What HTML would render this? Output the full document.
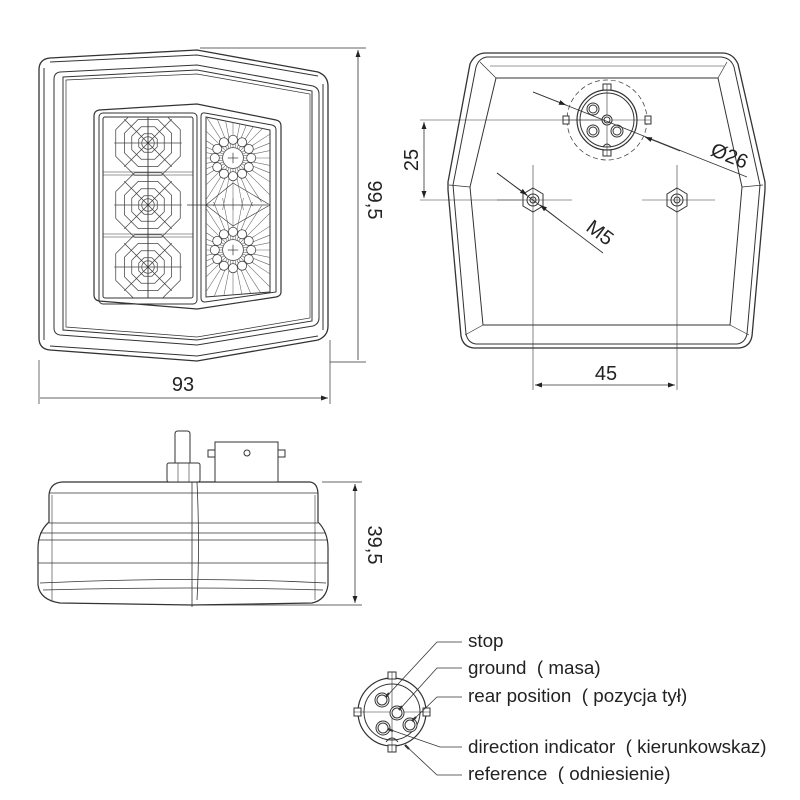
<!DOCTYPE html>
<html><head><meta charset="utf-8"><style>
html,body{margin:0;padding:0;background:#fff}
svg{display:block}
text{font-family:"Liberation Sans",sans-serif;fill:#222;white-space:pre}
</style></head><body>
<svg width="800" height="800" viewBox="0 0 800 800" xmlns="http://www.w3.org/2000/svg" xml:space="preserve">
<defs>
<marker id="ar" viewBox="0 0 10 10" refX="10" refY="5" markerWidth="10" markerHeight="7" orient="auto-start-reverse" markerUnits="userSpaceOnUse"><path d="M0,1.5 L10,5 L0,8.5 z" fill="#222"/></marker>
<g id="web" fill="none" stroke="#444" stroke-width="0.6">
<polygon points="3.1,-7.4 7.4,-3.1 7.4,3.1 3.1,7.4 -3.1,7.4 -7.4,3.1 -7.4,-3.1 -3.1,-7.4"/>
<polygon points="5.4,-13 13,-5.4 13,5.4 5.4,13 -5.4,13 -13,5.4 -13,-5.4 -5.4,-13"/>
<polygon points="7.8,-18.9 18.9,-7.8 18.9,7.8 7.8,18.9 -7.8,18.9 -18.9,7.8 -18.9,-7.8 -7.8,-18.9"/>
<polygon points="10.7,-25.8 25.8,-10.7 25.8,10.7 10.7,25.8 -10.7,25.8 -25.8,10.7 -25.8,-10.7 -10.7,-25.8"/>
<path d="M0,-27V27M-27,0H27M-19,-19L19,19M19,-19L-19,19"/>
<circle r="5"/>
</g>
<g id="sun" fill="none" stroke="#444" stroke-width="0.6">
<path d="M0,-40V40M-40,0H40M-28,-28L28,28M28,-28L-28,28M-15,-37L15,37M15,-37L-15,37M-37,-15L37,15M37,-15L-37,15M-8,-40L8,40M8,-40L-8,40M-40,-8L40,8M40,-8L-40,8M-22,-34L22,34M22,-34L-22,34M-34,-22L34,22M34,-22L-34,22" stroke="#666" stroke-width="0.45"/>
<circle r="8" fill="#fff"/>
<g fill="#fff"><circle cx="14" cy="0" r="3.5"/><circle cx="12.1" cy="7" r="3.5"/><circle cx="7" cy="12.1" r="3.5"/><circle cx="0" cy="14" r="3.5"/><circle cx="-7" cy="12.1" r="3.5"/><circle cx="-12.1" cy="7" r="3.5"/><circle cx="-14" cy="0" r="3.5"/><circle cx="-12.1" cy="-7" r="3.5"/><circle cx="-7" cy="-12.1" r="3.5"/><circle cx="0" cy="-14" r="3.5"/><circle cx="7" cy="-12.1" r="3.5"/><circle cx="12.1" cy="-7" r="3.5"/></g>
<path d="M-4,0H4M0,-4V4"/>
</g>
<clipPath id="cl"><rect x="103" y="117" width="90" height="181"/></clipPath>
<clipPath id="cr"><polygon points="206,117 270,130 270,292 206,297"/></clipPath>
</defs>

<g fill="none" stroke="#333" stroke-width="1">
<path d="M50,58 L197,50 L318,72 Q328,76 328,86 L328,326 Q328,336 318,340 L197,361 L50,350 Q39,349 39,338 L39,70 Q39,59 50,58 Z" stroke-width="1.3"/>
<path d="M50,62 L197,55 L318,76"/>
<path d="M50,346 L197,356 L318,336"/>
<path d="M44,68 L44,340"/>
<path d="M323,84 L323,330"/>
<path d="M60,72 L197,65 L313,86 Q319,88 319,94 L319,318 Q319,324 313,326 L197,345 L60,335 Q54,334 54,328 L54,79 Q54,73 60,72 Z"/>
<path d="M63,77 L197,70 L312,91 L312,321 L197,340 L63,330 Z"/>
<path d="M66,80 L197,74 L310,94 L310,318 L197,337 L66,327 Z" stroke-width="0.7"/>
<path d="M99,110 L197,104 L276,120 Q281,121 281,126 L281,292 Q281,296 276,297 L197,309 L99,301 Q94,300 94,295 L94,116 Q94,111 99,110 Z" stroke-width="1.2"/>
<rect x="99" y="113" width="98" height="191" rx="4"/>
<rect x="103" y="117" width="90" height="181" rx="2"/>
<path d="M205,113 L272,125 Q276,126 276,130 L276,292 L205,302 Q201,302 201,298 L201,117 Q201,112 205,113 Z"/>
<path d="M206,117 L270,130 L270,292 L206,297 Z"/>
<g clip-path="url(#cl)">
<use href="#web" transform="translate(148,143) scale(1.25)"/><use href="#web" transform="translate(148,205) scale(1.25)"/><use href="#web" transform="translate(148,267) scale(1.25)"/>
<path d="M103,172H193M103,175H193M103,234H193M103,237H193M148,117V298" stroke-width="0.6"/>
</g>
<g clip-path="url(#cr)">
<use href="#sun" transform="translate(233,158) scale(1.3)"/><use href="#sun" transform="translate(233,250) scale(1.3)"/>
<path d="M206,205 L233,183 L270,205 L233,226 Z" stroke-width="0.6"/>
</g>
<path d="M187,205H268" stroke-width="0.8"/>
<path d="M200,48H366M330,362H366M39,360V404M330,340V404" stroke-width="0.7"/>
<path d="M358,50V360M40,398H328" marker-start="url(#ar)" marker-end="url(#ar)" stroke-width="0.8"/>

<path d="M486,53 L722,53 Q733,53 738,64 L765,182 L765,190 L752,336 Q750,347 739,348 L474,348 Q463,347 461,336 L448,190 L448,182 L470,64 Q475,53 486,53 Z" stroke-width="1.3"/>
<path d="M487,57 L721,57 Q731,58 734,67 L760,185 L747,334 Q745,343 737,344 L476,344 Q468,343 466,334 L453,185 L476,67 Q479,58 487,57 Z"/>
<path d="M480,62 L496,78 M727,62 L718,78 M449,185 L470,187 M763,185 L742,187 M465,335 L483,325 M749,335 L730,325" stroke-width="0.7"/>
<path d="M496,78 L718,78 L742,187 L730,325 L483,325 L470,187 Z"/>
<path d="M490,66 L724,66" stroke-width="0.6"/>
<circle cx="607" cy="120" r="40" stroke-dasharray="5,3" stroke-width="0.7"/>
<circle cx="607" cy="120" r="30" stroke-width="1.2"/>
<circle cx="607" cy="120" r="27"/>
<rect x="563" y="116" width="6" height="8" fill="#fff"/><rect x="645" y="116" width="6" height="8" fill="#fff"/>
<rect x="603" y="84" width="8" height="6" fill="#fff"/><rect x="603" y="150" width="8" height="6" fill="#fff"/>
<path d="M607,84V156M563,120H651" stroke-width="0.6"/>
<path d="M603,147 Q607,141 611,147"/>
<g stroke-width="1"><circle cx="593" cy="109" r="6" fill="#fff"/><circle cx="593" cy="109" r="4"/>
<circle cx="593" cy="131" r="6" fill="#fff"/><circle cx="593" cy="131" r="4"/>
<circle cx="617" cy="131" r="6" fill="#fff"/><circle cx="617" cy="131" r="4"/>
<circle cx="607" cy="120" r="5" fill="#fff"/><circle cx="607" cy="120" r="3"/></g>
<polygon points="533,188 543,194 543,206 533,212 523,206 523,194" fill="#fff"/><circle cx="533" cy="200" r="6"/><circle cx="533" cy="200" r="3"/>
<polygon points="677,188 687,194 687,206 677,212 667,206 667,194" fill="#fff"/><circle cx="677" cy="200" r="6"/><circle cx="677" cy="200" r="3"/>
<path d="M533,165V390M497,200H572M677,165V390M642,200H715" stroke-width="0.6"/>
<path d="M420,120H603M420,200H522" stroke-width="0.6"/>
<path d="M424,122V198" marker-start="url(#ar)" marker-end="url(#ar)" stroke-width="0.8"/>
<path d="M535,385H675" marker-start="url(#ar)" marker-end="url(#ar)" stroke-width="0.8"/>
<path d="M533,92 L747,177" stroke-width="0.8"/>
<path d="M533,92 L566,105" marker-end="url(#ar)" stroke-width="0.8"/>
<path d="M680,151 L645,137" marker-end="url(#ar)" stroke-width="0.8"/>
<path d="M497,173 L603,253" stroke-width="0.8"/>
<path d="M497,173 L527,195" marker-end="url(#ar)" stroke-width="0.8"/>
<path d="M562,222 L540,205" marker-end="url(#ar)" stroke-width="0.8"/>

<path d="M62,482 L310,482 Q318,483 318,495 L318,522 Q328,532 328,548 L328,585 Q326,600 312,603 L192,605 L60,603 Q40,600 38,585 L38,548 Q38,532 49,522 L49,495 Q50,483 62,482 Z" stroke-width="1.2"/>
<path d="M49,493H318M49,523H318M40,533H326M38,540H328M38,563H328M40,583 Q192,576 326,583 M43,590 Q192,586 323,590" stroke-width="0.8"/>
<path d="M52,495V600M315,495V600" stroke-width="0.6"/>
<path d="M192,482V607M197,482 Q200,545 197,600" stroke-width="0.8"/>
<rect x="167" y="463" width="33" height="19" rx="2" fill="#fff"/>
<path d="M178,463V482M189,463V482" stroke-width="0.6"/>
<path d="M175,463V434 Q175,431 178,431 L187,431 Q190,431 190,434 V463"/>
<rect x="215" y="442" width="63" height="40" fill="#fff"/>
<rect x="208" y="450" width="7" height="7"/><rect x="278" y="450" width="7" height="7"/>
<circle cx="247" cy="453" r="3"/>
<path d="M322,482H362M198,605H362" stroke-width="0.7"/>
<path d="M355,484V603" marker-start="url(#ar)" marker-end="url(#ar)" stroke-width="0.8"/>

<circle cx="392" cy="712" r="34" stroke-width="1.2"/>
<circle cx="392" cy="712" r="28"/>
<rect x="388" y="672" width="8" height="7" fill="#fff"/><rect x="388" y="745" width="8" height="7" fill="#fff"/>
<rect x="354" y="708" width="7" height="8" fill="#fff"/><rect x="423" y="708" width="7" height="8" fill="#fff"/>
<path d="M392,672V752M354,712H430" stroke-width="0.6"/>
<path d="M386,742 Q392,734 398,742"/>
<g stroke-width="1"><circle cx="382" cy="700" r="7" fill="#fff"/><circle cx="382" cy="700" r="5"/>
<circle cx="397" cy="713" r="7" fill="#fff"/><circle cx="397" cy="713" r="5"/>
<circle cx="410" cy="725" r="7" fill="#fff"/><circle cx="410" cy="725" r="5"/>
<circle cx="383" cy="728" r="7" fill="#fff"/><circle cx="383" cy="728" r="5"/></g>
<g stroke-width="0.8">
<path d="M386,697 L437,642 H462"/>
<path d="M399,710 L437,668 H462"/>
<path d="M412,721 L437,697 H462"/>
<path d="M388,729 Q420,740 440,747 H462"/>
<path d="M405,745 L437,775 H462"/>
</g>
<g stroke-width="2.2"><path d="M386,697 L389,693"/><path d="M399,710 L402,706"/><path d="M412,721 L416,717"/><path d="M388,729 L393,731"/><path d="M405,745 L409,749"/></g>
</g>

<g font-size="20">
<text x="183" y="391" text-anchor="middle">93</text>
<text transform="translate(368,200) rotate(90)" text-anchor="middle">99,5</text>
<text transform="translate(368,545) rotate(90)" text-anchor="middle">39,5</text>
<text transform="translate(418,160) rotate(-90)" text-anchor="middle">25</text>
<text x="606" y="380" text-anchor="middle">45</text>
<text transform="translate(727,162) rotate(22)" text-anchor="middle">Ø26</text>
<text transform="translate(596,238) rotate(37)" text-anchor="middle">M5</text>
</g>
<g font-size="18.8">
<text x="468" y="647">stop</text>
<text x="468" y="674">ground  ( masa)</text>
<text x="468" y="702">rear position  ( pozycja tył)</text>
<text x="468" y="753">direction indicator  ( kierunkowskaz)</text>
<text x="468" y="780">reference  ( odniesienie)</text>
</g>
</svg>
</body></html>
